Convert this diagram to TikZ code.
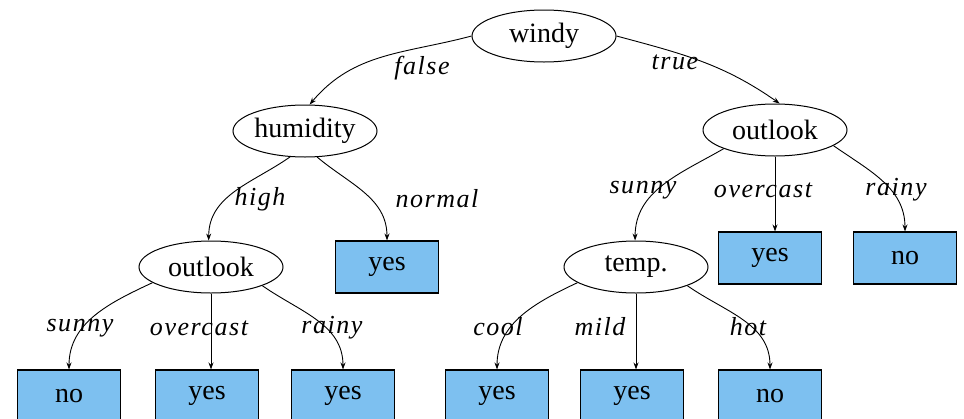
\documentclass[tikz,border=0pt]{standalone}
\usepackage{fontspec}
\setmainfont{Liberation Serif}
\usetikzlibrary{arrows.meta,shapes.geometric}
\definecolor{leafblue}{RGB}{125,192,240}
\tikzset{
  test/.style={draw, ellipse, line width=1pt, minimum width=144pt, minimum height=52pt, inner sep=0pt, font=\fontsize{28}{30}\selectfont},
  leaf/.style={draw, rectangle, fill=leafblue, line width=1.1pt, minimum width=103pt, minimum height=52pt, inner sep=0pt, font=\fontsize{28}{30}\selectfont},
  lbl/.style={inner sep=0pt, font=\fontsize{26}{28}\selectfont\itshape\addfontfeature{LetterSpace=6}},
  edge/.style={line width=0.9pt, -{Stealth[length=7pt,width=5pt]}}
}
\begin{document}
\begin{tikzpicture}[x=1pt,y=-1pt]
\useasboundingbox (0,0) rectangle (964,418);
% internal nodes
\node[test] (windy) at (544,36) {windy};
\node[test] (hum) at (305,131) {humidity};
\node[test] (outL) at (211,267) {outlook};
\node[test] (outR) at (775,130) {outlook};
\node[test] (temp) at (636,267) {temp.};
% leaves
\node[leaf] (yesN) at (387,267) {yes};
\node[leaf] (yesO) at (770,258) {yes};
\node[leaf] (noR) at (905,258) {no};
\node[leaf] (noS) at (69,396) {no};
\node[leaf] (yesOv) at (207,396) {yes};
\node[leaf] (yesRa) at (343,396) {yes};
\node[leaf] (yesC) at (497,396) {yes};
\node[leaf] (yesM) at (632,396) {yes};
\node[leaf] (noH) at (770,396) {no};
% edges
\draw[edge] (windy.west) to[out=195,in=50] (hum.80);
\draw[edge] (windy.east) to[out=-15,in=145] (outR.80);
\draw[edge] (hum.240) to[out=215,in=90] (outL.95);
\draw[edge] (hum.295) to[out=-40,in=90] (yesN.north);
\draw[edge] (outL.195) to[out=205,in=90] (noS.north);
\draw[edge] (outL.south) -- (outL.south |- yesOv.north);
\draw[edge] (outL.-20) to[out=-35,in=90] (yesRa.north);
\draw[edge] (outR.200) to[out=210,in=90] (temp.92);
\draw[edge] (outR.south) -- (outR.south |- yesO.north);
\draw[edge] (outR.-15) to[out=-35,in=90] (noR.north);
\draw[edge] (temp.195) to[out=205,in=90] (yesC.north);
\draw[edge] (temp.south) -- (temp.south |- yesM.north);
\draw[edge] (temp.-20) to[out=-35,in=90] (noH.north);
% labels
\node[lbl] (lf) at (422,68) {false};
\node[lbl] (lt) at (675,62) {true};
\node[lbl] (lh) at (260,199) {high};
\node[lbl] (ln) at (437,199) {normal};
\node[lbl] (ls1) at (80,328) {sunny};
\node[lbl] (lo1) at (199,328) {overcast};
\node[lbl] (lr1) at (332,328) {rainy};
\node[lbl] (ls2) at (643,190) {sunny};
\node[lbl] (lo2) at (763,190) {overcast};
\node[lbl] (lr2) at (896,190) {rainy};
\node[lbl] (lc) at (498,327) {cool};
\node[lbl] (lm) at (600,327) {mild};
\node[lbl] (lho) at (748,327) {hot};
\end{tikzpicture}
\end{document}
